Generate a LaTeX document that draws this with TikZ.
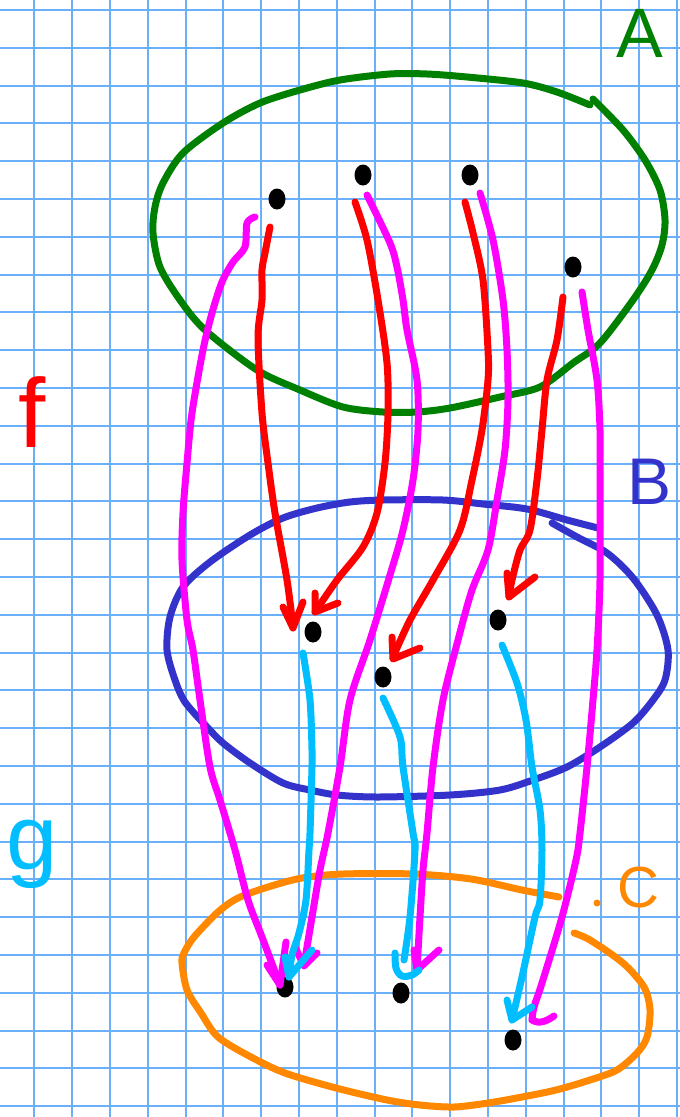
\documentclass[tikz,border=0pt]{standalone}
\usepackage{fontspec}
\usetikzlibrary{shapes.geometric}
\setmainfont{Liberation Sans}
\definecolor{gridc}{RGB}{105,175,250}
\definecolor{pgreen}{RGB}{0,128,0}
\definecolor{pred}{RGB}{255,0,0}
\definecolor{pmag}{RGB}{255,0,255}
\definecolor{pcyan}{RGB}{0,190,255}
\definecolor{pblue}{RGB}{51,51,204}
\definecolor{porange}{RGB}{255,136,0}
\begin{document}
\begin{tikzpicture}[x=1pt,y=-1pt,
  pen/.style={line width=7pt,line cap=round,line join=round},
  gridline/.style={gridc,line width=2pt},
  dot/.style={ellipse,fill=black,inner sep=0pt,minimum width=17pt,minimum height=21pt},
  lbl/.style={inner sep=0pt,font=\fontsize{#1}{#1}\selectfont}]
\fill[white] (0,0) rectangle (680,1117);
\useasboundingbox (0,0) rectangle (680,1117);
% grid
\foreach \i in {0,...,17} \draw[gridline] (34.3+37.8*\i,0) -- (34.3+37.8*\i,1117);
\foreach \j in {0,...,29} \draw[gridline] (0,10+37.8*\j) -- (680,10+37.8*\j);

% sets
\draw[pen,pgreen] plot[smooth,tension=0.5] coordinates {(593,99) (623,130) (645,160) (660,190) (665,220) (662,245) (652,270) (633,300) (600,343) (573,363) (540,387) (500,397) (450,408) (417,412) (383,412) (343,407) (300,390) (257,370) (205,330) (180,300) (160,267) (153,233) (155,207) (163,183) (183,153) (223,123) (260,103) (300,90) (340,80) (390,74) (427,74) (467,77) (523,83) (557,92) (590,105)};
\draw[pen,pblue] plot[smooth,tension=0.5] coordinates {(598,528) (567,520) (527,509) (483,504) (443,500) (383,500) (350,502) (317,508) (283,518) (250,535) (210,562) (183,587) (170,617) (167,650) (175,680) (185,702) (207,727) (223,743) (250,763) (283,783) (310,790) (337,795) (377,797) (450,795) (500,790) (533,780) (567,767) (600,747) (633,723) (653,700) (665,680) (668,650) (657,615) (633,578) (607,553) (577,537) (552,523)};
\draw[pen,porange] plot[smooth,tension=0.5] coordinates {(574,933) (590,940) (623,963) (644,987) (650,1010) (647,1037) (637,1053) (617,1070) (590,1080) (556,1090) (522,1097) (488,1103) (454,1107) (420,1105) (387,1100) (336,1088) (285,1073) (251,1057) (218,1037) (201,1013) (187,990) (182,963) (184,953) (194,937) (218,912) (238,898) (268,887) (302,878) (343,874) (414,874) (471,879) (522,890) (559,897)};
\fill[porange] (597,903) circle (3.5pt);

% labels
\node[lbl=70,text=pgreen] (lA) at (640,33) {A};
\node[lbl=66,text=pblue] (lB) at (650,482) {B};
\node[lbl=58,text=porange] (lC) at (638,888) {C};
\node[lbl=98,text=pred] (lf) at (32,412) {f};
\node[lbl=92,text=pcyan] (lg) at (32,854) {g};

% points
\node[dot] (a1) at (277,199) {};
\node[dot] (a2) at (363,175) {};
\node[dot] (a3) at (470,175) {};
\node[dot] (a4) at (573,267) {};
\node[dot] (b1) at (313,632) {};
\node[dot] (b2) at (383,677) {};
\node[dot] (b3) at (498,620) {};
\node[dot] (c1) at (285,987) {};
\node[dot] (c2) at (401,993) {};
\node[dot] (c3) at (513,1040) {};

% f : red
\draw[pen,pred] plot[smooth,tension=0.5] coordinates {(270,227) (265,253) (262,270) (262,300) (258,337) (262,413) (268,463) (275,513) (287,580) (293,627)};
\draw[pen,pred] (283,607) -- (293,628) -- (303,602);
\draw[pen,pred] plot[smooth,tension=0.5] coordinates {(355,202) (367,240) (378,300) (387,363) (388,413) (385,463) (377,513) (363,547) (337,580) (315,612)};
\draw[pen,pred] (315,593) -- (315,612) -- (338,603);
\draw[pen,pred] plot[smooth,tension=0.5] coordinates {(465,202) (473,233) (483,280) (488,350) (488,380) (482,430) (472,480) (460,530) (433,580) (410,620) (393,657)};
\draw[pen,pred] (392,637) -- (393,659) -- (420,648);
\draw[pen,pred] plot[smooth,tension=0.5] coordinates {(563,297) (557,340) (547,380) (542,430) (537,480) (530,530) (520,550) (512,580) (509,597)};
\draw[pen,pred] (507,573) -- (509,597) -- (535,577);

% g o f : magenta
\draw[pen,pmag] plot[smooth,tension=0.5] coordinates {(255,217) (247,223) (245,247) (233,262) (222,282) (212,313) (203,350) (192,413) (187,463) (183,513) (182,560) (187,620) (193,650) (200,700) (210,767) (220,800) (235,850) (248,900) (262,937) (280,985)};
\draw[pen,pmag] (267,965) -- (280,985) -- (286,942);
\draw[pen,pmag] plot[smooth,tension=0.5] coordinates {(367,195) (390,243) (397,267) (403,300) (407,330) (417,380) (418,430) (413,480) (403,530) (390,575) (370,640) (350,700) (340,767) (328,833) (320,870) (312,917) (304,965)};
\draw[pen,pmag] (295,947) -- (304,966) -- (317,953);
\draw[pen,pmag] plot[smooth,tension=0.5] coordinates {(480,193) (493,240) (503,300) (507,350) (508,400) (505,450) (497,500) (488,550) (472,590) (458,640) (443,700) (433,767) (427,833) (423,870) (420,917) (417,970)};
\draw[pen,pmag] (414,950) -- (417,970) -- (439,950);
\draw[pen,pmag] plot[smooth,tension=0.5] coordinates {(582,292) (588,330) (597,380) (600,430) (600,480) (600,580) (597,650) (593,700) (587,767) (580,833) (576,860) (562,917) (542,983) (534,1007) (532,1020)};
\draw[pen,pmag] (532,1020) .. controls (540,1025) and (548,1020) .. (554,1016);

% g : cyan
\draw[pen,pcyan] plot[smooth,tension=0.5] coordinates {(303,653) (310,700) (312,750) (312,767) (310,833) (309,850) (306,900) (299,933) (292,955) (289,977)};
\draw[pen,pcyan] (285,957) -- (289,977) -- (312,950);
\draw[pen,pcyan] plot[smooth,tension=0.5] coordinates {(383,698) (400,737) (403,767) (413,833) (415,850) (410,917) (404,960)};
\draw[pen,pcyan] plot[smooth,tension=0.6] coordinates {(395,953) (396,968) (402,976) (412,975) (419,970)};
\draw[pen,pcyan] plot[smooth,tension=0.5] coordinates {(502,645) (517,683) (526,720) (532,767) (540,810) (542,850) (540,900) (535,917) (522,977) (512,1020)};
\draw[pen,pcyan] (507,1000) -- (512,1020) -- (532,1007);
\end{tikzpicture}
\end{document}
